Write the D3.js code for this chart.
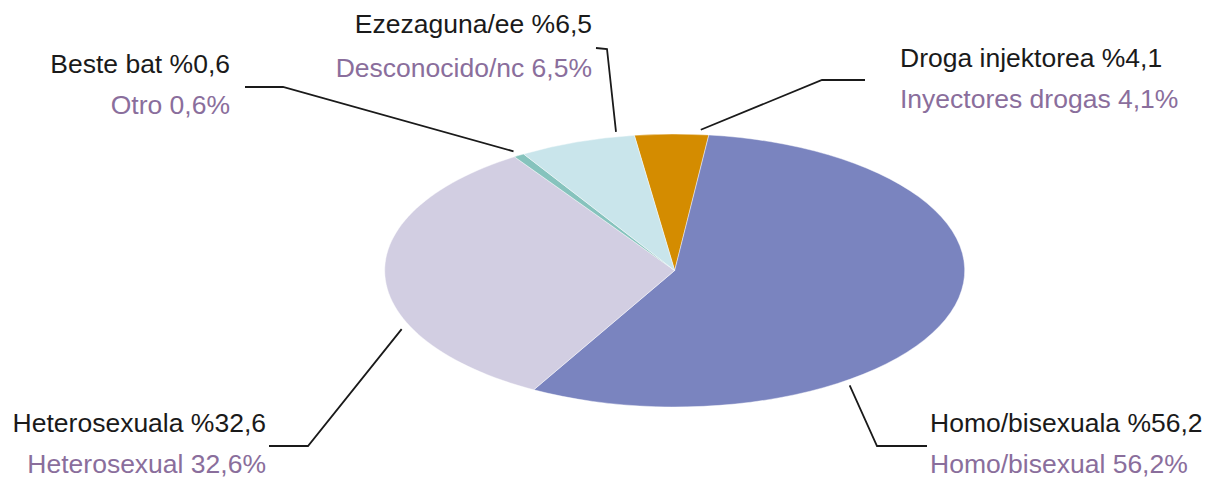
<!DOCTYPE html>
<meta charset="utf-8">
<style>
  body { margin: 0; background: #fff; }
  text { font-family: "Liberation Sans", Arial, sans-serif; font-size: 26.5px; }
</style>
<svg width="1205" height="478"></svg>
<script src="https://d3js.org/d3.v7.min.js"></script>
<script>

  // data, clockwise from the top
  var groupsEu = ["Droga injektorea", "Homo/bisexuala", "Heterosexuala", "Beste bat", "Ezezaguna/ee"];
  var groupsEs = ["Inyectores drogas", "Homo/bisexual", "Heterosexual", "Otro", "Desconocido/nc"];
  var values = [4.1, 56.2, 32.6, 0.6, 6.5];
  var colors = ["#d48c00", "#7a84bf", "#d2cee2", "#86c3bd", "#c9e5eb"];

  // label layout: where the leader touches the slice (fraction of slice), elbow, end, text
  var anchorT = [0.88, 0.68, 0.31, 0.5, 0.86];
  var elbows = [[822, 80], [877, 446], [308, 446], [283, 87], [607, 49]];
  var ends   = [[865, 80], [927, 446], [269, 446], [245, 87], [596, 48]];
  var textX  = [900, 930, 266, 230, 592];
  var textY  = [67, 432, 432, 73, 33];
  var textAnchor = ["start", "start", "end", "end", "end"];

  var svg = d3.select("svg"),
      cx = 674.7, cy = 270.5,
      rx = 290, ry = 136.5;

  var fmt = d3.formatLocale({decimal: ",", thousands: ".", grouping: [3], currency: ["", ""]}).format(".1f");

  var start = -8 * Math.PI / 180;
  var pie = d3.pie().sort(null).startAngle(start).endAngle(start + 2 * Math.PI);
  var arcs = pie(values);

  var arc = d3.arc().innerRadius(0).outerRadius(rx);

  var g = svg.append("g").attr("transform", "translate(" + cx + "," + cy + ") scale(1," + (ry / rx) + ")");

  g.selectAll("path")
    .data(arcs)
    .enter().append("path")
      .attr("d", arc)
      .attr("fill", function(d, i) { return colors[i]; })
      .attr("stroke", "#fff")
      .attr("stroke-width", 0.6);

  function rim(a, k) {
    return [cx + rx * k * Math.sin(a), cy - ry * k * Math.cos(a)];
  }

  var labels = svg.append("g");

  arcs.forEach(function(d, i) {
    var a = d.startAngle + (d.endAngle - d.startAngle) * anchorT[i];
    var p = rim(a, 1.035);
    labels.append("path")
      .attr("d", d3.line()([p, elbows[i], ends[i]]))
      .attr("fill", "none")
      .attr("stroke", "#1a1a1a")
      .attr("stroke-width", 1.8);

    labels.append("text")
      .attr("x", textX[i])
      .attr("y", textY[i])
      .attr("text-anchor", textAnchor[i])
      .attr("fill", "#1a1a1a")
      .text(groupsEu[i] + " %" + fmt(values[i]));

    labels.append("text")
      .attr("x", textX[i])
      .attr("y", textY[i] + (i === 4 ? 44 : 41))
      .attr("text-anchor", textAnchor[i])
      .attr("fill", "#8a6e9c")
      .text(groupsEs[i] + " " + fmt(values[i]) + "%");
  });

</script>
